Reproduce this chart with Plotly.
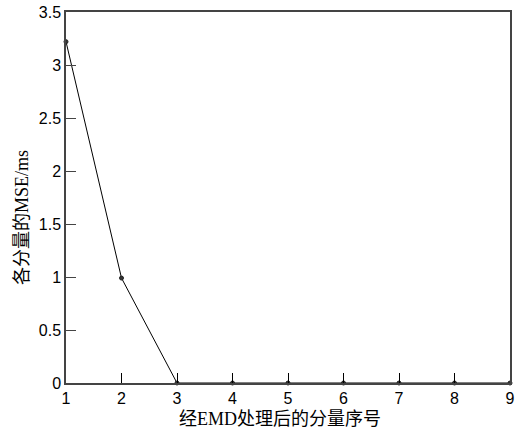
import plotly.graph_objects as go

x_vals = [1, 2, 3, 4, 5, 6, 7, 8, 9]
mse_vals = [3.22, 0.99, 0, 0, 0, 0, 0, 0, 0]
x_ticks = [1, 2, 3, 4, 5, 6, 7, 8, 9]
y_ticks = [0, 0.5, 1, 1.5, 2, 2.5, 3, 3.5]
y_tick_text = ["0", "0.5", "1", "1.5", "2", "2.5", "3", "3.5"]
x_title = "经EMD处理后的分量序号"
y_title = "各分量的MSE/ms"

fig = go.Figure()
fig.add_trace(go.Scatter(
    x=x_vals, y=mse_vals, mode="lines+markers",
    line=dict(color="black", width=1),
    marker=dict(symbol="circle", size=4, color="#333333",
                line=dict(color="#222222", width=1)),
    cliponaxis=False, showlegend=False,
))

tick_font = dict(family="Liberation Sans, Arial, sans-serif", size=16, color="black")
title_font = dict(family="Liberation Serif, Noto Sans CJK SC, serif", size=18, color="black")

fig.update_layout(
    width=525, height=431,
    margin=dict(l=66, r=15, t=12, b=48, autoexpand=False),
    paper_bgcolor="white", plot_bgcolor="white",
    xaxis=dict(
        range=[1, 9], tickvals=x_ticks, ticks="inside", ticklen=10,
        tickcolor="black", tickwidth=1, showgrid=False, zeroline=False,
        showline=True, linecolor="#444444", linewidth=1.5, mirror=True,
        tickfont=tick_font, automargin=False, ticklabeloverflow="allow",
    ),
    yaxis=dict(
        range=[0, 3.5], tickvals=y_ticks, ticktext=y_tick_text,
        ticks="inside", ticklen=10, tickcolor="#444444", tickwidth=1,
        showgrid=False, zeroline=False,
        showline=True, linecolor="#444444", linewidth=1.5, mirror=True,
        tickfont=tick_font, automargin=False, ticklabeloverflow="allow",
    ),
    annotations=[
        dict(text=x_title, xref="paper", yref="paper", x=0.5, y=0,
             xanchor="center", yanchor="middle", xshift=-8, yshift=-36,
             showarrow=False, font=title_font),
        dict(text=y_title, xref="paper", yref="paper", x=0, y=0.445,
             xanchor="center", yanchor="middle", xshift=-44, textangle=-90,
             showarrow=False, font=title_font),
    ],
)

fig.write_html("out.html", config={"displayModeBar": False},
               post_script="document.body.style.margin='0';")
